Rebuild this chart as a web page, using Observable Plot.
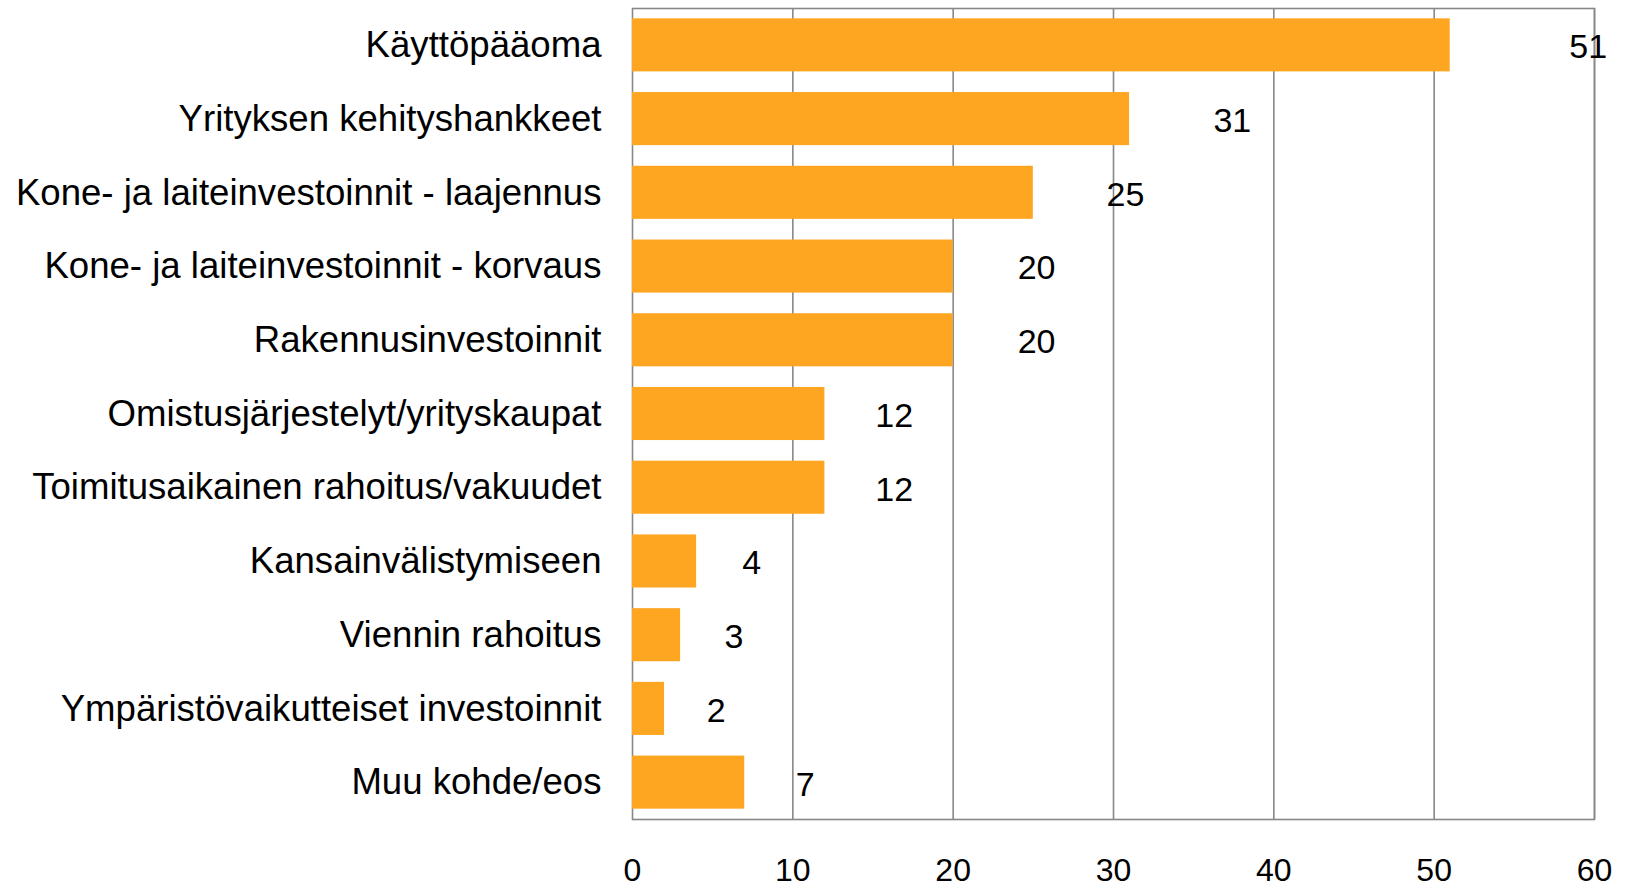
<!DOCTYPE html>
<html>
<head>
<meta charset="utf-8">
<script src="https://cdn.jsdelivr.net/npm/d3@7"></script>
<script src="https://cdn.jsdelivr.net/npm/@observablehq/plot@0.6"></script>
<style>
  html, body { margin: 0; padding: 0; background: #fff; }
  #chart { width: 1629px; height: 889px; }
  svg { font-family: "Liberation Sans", Arial, sans-serif; }
</style>
</head>
<body>
<div id="chart"></div>
<script>
const categories = [
  "Käyttöpääoma",
  "Yrityksen kehityshankkeet",
  "Kone- ja laiteinvestoinnit - laajennus",
  "Kone- ja laiteinvestoinnit - korvaus",
  "Rakennusinvestoinnit",
  "Omistusjärjestelyt/yrityskaupat",
  "Toimitusaikainen rahoitus/vakuudet",
  "Kansainvälistymiseen",
  "Viennin rahoitus",
  "Ympäristövaikutteiset investoinnit",
  "Muu kohde/eos"
];
const values = [51, 31, 25, 20, 20, 12, 12, 4, 3, 2, 7];
const xTicks = [0, 10, 20, 30, 40, 50, 60];

const data = categories.map((c, i) => ({category: c, value: values[i]}));

const gridColor = "#888888";
const barColor = "#FEA622";

const chart = Plot.plot({
  width: 1629,
  height: 889,
  marginLeft: 632,
  marginRight: 35,
  marginTop: 8,
  marginBottom: 70,
  style: {fontFamily: "'Liberation Sans', Arial, sans-serif", color: "#000", background: "#fff"},
  x: {domain: [0, 60], ticks: xTicks},
  y: {domain: categories, paddingInner: 0.28, paddingOuter: 0.14, round: false},
  marks: [
    Plot.ruleX(xTicks.filter(t => t > 0), {stroke: gridColor, strokeWidth: 1.6}),
    Plot.frame({stroke: gridColor, strokeWidth: 1.6}),
    Plot.barX(data, {x: "value", y: "category", fill: barColor}),
    Plot.text(data, {
      x: d => d.value * 1.11 + 3.0,
      y: "category",
      text: d => String(d.value),
      fontSize: 34,
      textAnchor: "middle",
      dy: 2,
      fill: "#000"
    }),
    Plot.axisY({tickSize: 0, tickPadding: 31, fontSize: 36.6, label: null, fill: "#000"}),
    Plot.axisX({ticks: xTicks, tickSize: 0, tickPadding: 39, fontSize: 32, label: null, fill: "#000"})
  ]
});
document.getElementById("chart").appendChild(chart);
</script>
</body>
</html>
